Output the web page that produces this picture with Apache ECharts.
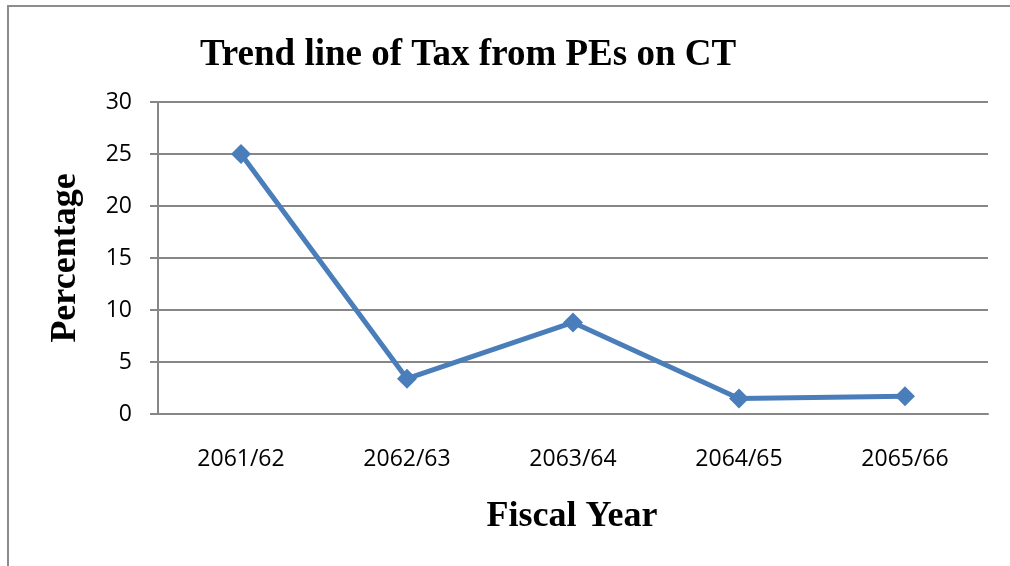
<!DOCTYPE html>
<html>
<head>
<meta charset="utf-8">
<script src="https://cdn.jsdelivr.net/npm/echarts@6/dist/echarts.min.js"></script>
<style>
  html, body { margin: 0; padding: 0; background: #ffffff; }
  #chart { width: 1010px; height: 566px; }
</style>
</head>
<body>
<div id="chart"></div>
<script>
// Fiscal years on the x axis
const fiscalYears = ['2061/62', '2062/63', '2063/64', '2064/65', '2065/66'];
// Tax from PEs on CT, percentage per year
const taxPercent = [25, 3.4, 8.8, 1.5, 1.7];
// Value axis range
const yMin = 0;
const yMax = 30;
const yStep = 5;

const chart = echarts.init(document.getElementById('chart'), null, { renderer: 'canvas' });

const serif = '"Liberation Serif", "DejaVu Serif", serif';
const sans = '"Open Sans", "Noto Sans", sans-serif';
const gridColor = '#878787';

chart.setOption({
  backgroundColor: '#ffffff',
  animation: false,
  title: {
    text: 'Trend line of Tax from PEs on CT',
    left: 463,
    top: 32,
    textAlign: 'center',
    textStyle: { fontFamily: serif, fontWeight: 'bold', fontSize: 37, color: '#000000' }
  },
  graphic: [
    {
      type: 'rect',
      shape: { x: 8, y: 6, width: 1100, height: 700 },
      style: { fill: 'none', stroke: '#8c8c8c', lineWidth: 2 },
      silent: true
    },
    {
      type: 'text',
      x: 66,
      y: 258,
      rotation: Math.PI / 2,
      style: {
        text: 'Percentage',
        fontFamily: serif,
        fontWeight: 'bold',
        fontSize: 36,
        fill: '#000000',
        align: 'center',
        verticalAlign: 'middle'
      }
    },
    {
      type: 'text',
      x: 572,
      y: 517,
      style: {
        text: 'Fiscal Year',
        fontFamily: serif,
        fontWeight: 'bold',
        fontSize: 36,
        fill: '#000000',
        align: 'center',
        verticalAlign: 'middle'
      }
    }
  ],
  grid: { left: 158, right: 22, top: 102, bottom: 152 },
  xAxis: {
    type: 'category',
    data: fiscalYears,
    boundaryGap: true,
    axisLine: { show: true, lineStyle: { color: gridColor, width: 2 } },
    axisTick: { show: false },
    axisLabel: { fontFamily: sans, fontSize: 23, color: '#000000', margin: 34 },
    splitLine: { show: false }
  },
  yAxis: {
    type: 'value',
    min: yMin,
    max: yMax,
    interval: yStep,
    axisLine: { show: true, lineStyle: { color: gridColor, width: 2 } },
    axisTick: { show: true, length: 8, inside: false, lineStyle: { color: gridColor, width: 2 } },
    axisLabel: { fontFamily: sans, fontSize: 23, color: '#000000', margin: 26 },
    splitLine: { show: true, lineStyle: { color: gridColor, width: 2 } }
  },
  series: [
    {
      type: 'line',
      data: taxPercent,
      symbol: 'diamond',
      symbolSize: 20,
      lineStyle: { color: '#4a7ebb', width: 5 },
      itemStyle: { color: '#4a7ebb' }
    }
  ]
});
</script>
</body>
</html>
